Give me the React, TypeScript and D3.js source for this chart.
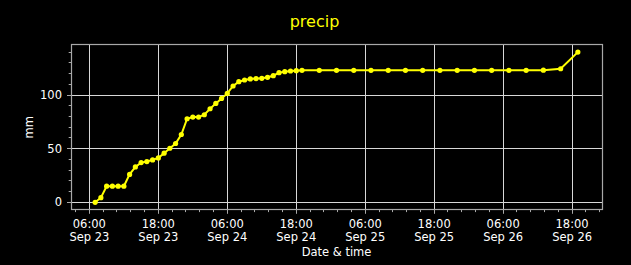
import React from "react";
import * as d3 from "d3";

const hourlyStart = "2023-09-23T07:00:00";
const hourlyValues = [
  0, 4.3, 15, 15, 15, 15, 26, 33, 37, 38, 39.5, 41.4, 45.8, 50.4, 54.8, 63.2,
  77.9, 79.4, 79.4, 81.6, 87.2, 92.2, 96.8, 101.5, 108.4, 112.4, 114, 115,
  115.3, 115.6, 116.5, 118, 120.8, 121.8, 122.4, 122.7, 123,
];
const threeHourlyStart = "2023-09-24T22:00:00";
const threeHourlyValues = [
  123, 123, 123, 123, 123, 123, 123, 123, 123, 123, 123, 123, 123, 123.2, 124.5,
  140,
];
const xTickTimes = [
  "2023-09-23T06:00:00",
  "2023-09-23T18:00:00",
  "2023-09-24T06:00:00",
  "2023-09-24T18:00:00",
  "2023-09-25T06:00:00",
  "2023-09-25T18:00:00",
  "2023-09-26T06:00:00",
  "2023-09-26T18:00:00",
];
const yTicks = [0, 50, 100];
const title = "precip";
const xLabel = "Date & time";
const yLabel = "mm";

type Pt = { t: Date; v: number };

const HOUR = 3600 * 1000;
const data: Pt[] = [
  ...hourlyValues.map((v, i) => ({
    t: new Date(new Date(hourlyStart).getTime() + i * HOUR),
    v,
  })),
  ...threeHourlyValues.map((v, i) => ({
    t: new Date(new Date(threeHourlyStart).getTime() + i * 3 * HOUR),
    v,
  })),
];

export default function App() {
  const W = 631;
  const H = 265;
  const left = 71;
  const right = 602;
  const top = 44.6;
  const bottom = 209.8;

  const tMin = d3.min(data, (d) => d.t.getTime())!;
  const tMax = d3.max(data, (d) => d.t.getTime())!;
  const tPad = (tMax - tMin) * 0.05;
  const x = d3
    .scaleTime()
    .domain([new Date(tMin - tPad), new Date(tMax + tPad)])
    .range([left, right]);
  const vMin = d3.min(data, (d) => d.v)!;
  const vMax = d3.max(data, (d) => d.v)!;
  const vPad = (vMax - vMin) * 0.05;
  const y = d3
    .scaleLinear()
    .domain([vMin - vPad, vMax + vPad])
    .range([bottom, top]);

  const majorX = xTickTimes.map((s) => new Date(s));
  const minorStep = 2.4 * HOUR;
  const minorX: Date[] = [];
  const base = majorX[0].getTime();
  const [d0, d1] = x.domain().map((d) => d.getTime());
  for (let k = Math.ceil((d0 - base) / minorStep); base + k * minorStep <= d1; k++) {
    if (k % 5 !== 0) minorX.push(new Date(base + k * minorStep));
  }
  const minorY: number[] = [];
  const [yd0, yd1] = y.domain();
  for (let v = Math.ceil(yd0 / 10) * 10; v <= yd1; v += 10) {
    if (v % 50 !== 0) minorY.push(v);
  }

  const line = d3
    .line<Pt>()
    .x((d) => x(d.t))
    .y((d) => y(d.v));

  const fmtTime = d3.timeFormat("%H:%M");
  const fmtDate = d3.timeFormat("%b %d");
  const snap = (p: number) => Math.round(p - 0.5) + 0.5;

  const textColor = "#ffffff";
  const gridColor = "#d8d8d8";
  const frameColor = "#a8a8a8";
  const font = "DejaVu Sans";

  return (
    <svg
      width={W}
      height={H}
      style={{ position: "absolute", left: 0, top: 0, background: "#000" }}
    >
      <rect x={0} y={0} width={W} height={H} fill="#000" />
      <text
        x={314.5}
        y={27}
        fill="#ffff00"
        fontFamily={font}
        fontSize={16}
        textAnchor="middle"
      >
        {title}
      </text>
      {/* grid */}
      {majorX.map((t, i) => (
        <line
          key={"gx" + i}
          x1={snap(x(t))}
          x2={snap(x(t))}
          y1={top}
          y2={bottom}
          stroke={gridColor}
          strokeWidth={1}
        />
      ))}
      {yTicks.map((v, i) => (
        <line
          key={"gy" + i}
          x1={left}
          x2={right}
          y1={snap(y(v))}
          y2={snap(y(v))}
          stroke={gridColor}
          strokeWidth={1}
        />
      ))}
      {/* frame */}
      <rect
        x={snap(left)}
        y={snap(top)}
        width={Math.round(right - left)}
        height={Math.round(bottom - top)}
        fill="none"
        stroke={frameColor}
        strokeWidth={1.2}
      />
      {/* x ticks */}
      {majorX.map((t, i) => (
        <g key={"xt" + i}>
          <line
            x1={snap(x(t))}
            x2={snap(x(t))}
            y1={bottom}
            y2={bottom + 4}
            stroke={frameColor}
          />
          <text
            x={x(t)}
            y={227.5}
            fill={textColor}
            fontFamily={font}
            fontSize={11.5}
            textAnchor="middle"
          >
            {fmtTime(t)}
          </text>
          <text
            x={x(t)}
            y={241}
            fill={textColor}
            fontFamily={font}
            fontSize={11.5}
            textAnchor="middle"
          >
            {fmtDate(t)}
          </text>
        </g>
      ))}
      {minorX.map((t, i) => (
        <line
          key={"xm" + i}
          x1={snap(x(t))}
          x2={snap(x(t))}
          y1={bottom}
          y2={bottom + 2.3}
          stroke={frameColor}
        />
      ))}
      {/* y ticks */}
      {yTicks.map((v, i) => (
        <g key={"yt" + i}>
          <line
            x1={left - 4}
            x2={left}
            y1={snap(y(v))}
            y2={snap(y(v))}
            stroke={frameColor}
          />
          <text
            x={62}
            y={y(v)}
            dy="0.36em"
            fill={textColor}
            fontFamily={font}
            fontSize={11.5}
            textAnchor="end"
          >
            {v}
          </text>
        </g>
      ))}
      {minorY.map((v, i) => (
        <line
          key={"ym" + i}
          x1={left - 2.3}
          x2={left}
          y1={snap(y(v))}
          y2={snap(y(v))}
          stroke={frameColor}
        />
      ))}
      {/* axis labels */}
      <text
        x={(left + right) / 2}
        y={256}
        fill={textColor}
        fontFamily={font}
        fontSize={11.5}
        textAnchor="middle"
      >
        {xLabel}
      </text>
      <text
        transform={`translate(33,${(top + bottom) / 2}) rotate(-90)`}
        fill={textColor}
        fontFamily={font}
        fontSize={11.5}
        textAnchor="middle"
      >
        {yLabel}
      </text>
      {/* series */}
      <path d={line(data) ?? ""} fill="none" stroke="#ffff00" strokeWidth={2} />
      {data.map((d, i) => (
        <circle key={"p" + i} cx={x(d.t)} cy={y(d.v)} r={2.6} fill="#ffff00" />
      ))}
    </svg>
  );
}
